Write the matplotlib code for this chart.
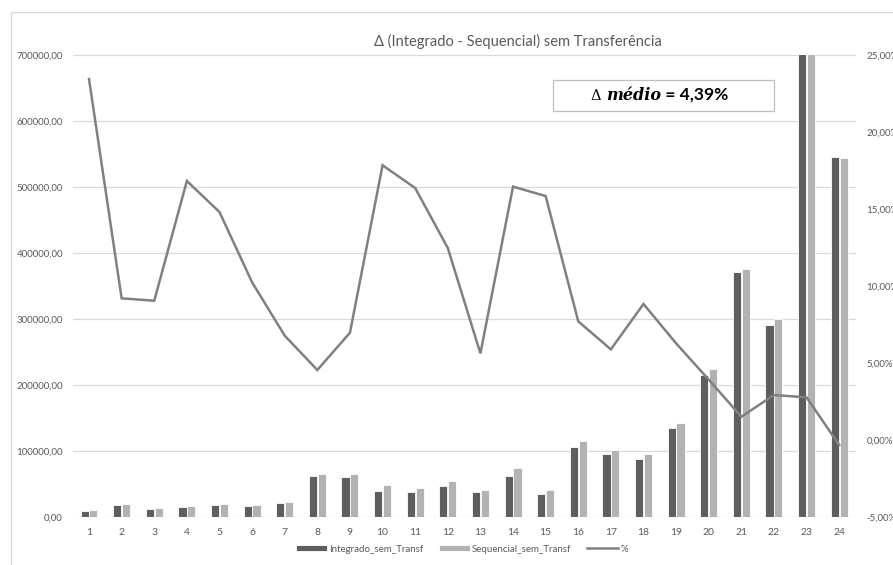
import matplotlib
matplotlib.use("Agg")
import matplotlib.pyplot as plt
from matplotlib.patches import Rectangle
from matplotlib.offsetbox import TextArea, HPacker, AnnotationBbox
from matplotlib.ticker import FuncFormatter, MultipleLocator
import numpy as np

# Data
cenarios = [str(i) for i in range(1, 25)]
integrado = [8000, 17700, 12000, 14500, 17000, 15800, 20500, 61300, 60700, 39500,
             37000, 46500, 37900, 62100, 34300, 106000, 95100, 87600, 134100, 215000,
             370900, 290400, 760000, 546300]
sequencial = [9900, 19000, 13500, 16800, 19800, 17800, 22000, 64300, 65300, 48000,
              44100, 53500, 40400, 74200, 40900, 115200, 101200, 95600, 142200, 223700,
              376300, 299500, 781000, 544800]
delta_pct = [23.46, 9.20, 9.04, 16.83, 14.81, 10.24, 6.77, 4.54, 6.96, 17.85,
             16.37, 12.47, 5.62, 16.46, 15.85, 7.70, 5.88, 8.83, 6.27, 3.91,
             1.50, 2.91, 2.76, -0.34]
titulo = "\u0394 (Integrado - Sequencial) sem Transfer\u00eancia"
media_txt = "4,39%"

W, H = 893, 565
fig = plt.figure(figsize=(W / 100, H / 100), dpi=100)
plt.rcParams['font.family'] = ['Liberation Sans Narrow', 'Lato', 'DejaVu Sans']

TXT = '#595959'
GRID = '#d9d9d9'
DARK = '#5e5e5e'
LIGHT = '#b2b2b2'
LINE = '#808080'

# outer chart border
fig.patches.append(Rectangle((10.7 / W, -0.1), 1.2, (H - 11.7) / H + 0.1,
                             transform=fig.transFigure, fill=False,
                             edgecolor=GRID, lw=0.9))

left, right = 72.7 / W, 855.5 / W
bottom, top = (H - 516.7) / H, (H - 55.3) / H
ax = fig.add_axes([left, bottom, right - left, top - bottom])

x = np.arange(len(cenarios))
bw = 0.25
ax.bar(x - 0.135, integrado, width=bw, color=DARK, edgecolor='white', lw=0.6,
       label='Integrado_sem_Transf', zorder=2)
ax.bar(x + 0.135, sequencial, width=bw, color=LIGHT, edgecolor='white', lw=0.6,
       label='Sequencial_sem_Transf', zorder=2)

ax.set_xlim(-0.5, len(cenarios) - 0.5)
ax.set_ylim(0, 700000)
ax.yaxis.set_major_locator(MultipleLocator(100000))
ax.yaxis.set_major_formatter(FuncFormatter(lambda v, p: f"{v:.2f}".replace('.', ',')))
ax.set_xticks(x)
ax.set_xticklabels(cenarios)
ax.grid(axis='y', color=GRID, lw=0.9, zorder=0)
ax.set_axisbelow(True)
for s in ax.spines.values():
    s.set_visible(False)
ax.tick_params(axis='y', length=0, pad=7, labelsize=7, labelcolor=TXT)
ax.tick_params(axis='x', length=0, pad=8, labelsize=7.5, labelcolor=TXT)

ax2 = ax.twinx()
ax2.plot(x, delta_pct, color=LINE, lw=1.8, label='%', zorder=3,
         solid_joinstyle='miter')
ax2.set_ylim(-5, 25)
ax2.yaxis.set_major_locator(MultipleLocator(5))
ax2.yaxis.set_major_formatter(FuncFormatter(lambda v, p: f"{v:.2f}%".replace('.', ',')))
for s in ax2.spines.values():
    s.set_visible(False)
ax2.tick_params(axis='y', length=0, pad=8, labelsize=7, labelcolor=TXT)

# title
fig.text(518 / W, 1 - 41 / H, titulo, ha='center', va='center',
         fontsize=10.5, color=TXT)

# average annotation box
bx0, bx1, by0, by1 = 553, 774, 80, 111
fig.patches.append(Rectangle((bx0 / W, 1 - by1 / H), (bx1 - bx0) / W, (by1 - by0) / H,
                             transform=fig.transFigure, facecolor='white',
                             edgecolor='#bfbfbf', lw=0.9, zorder=5))
t1 = TextArea("\u0394 ", textprops=dict(family='DejaVu Serif', fontsize=10.5, color='black'))
t2 = TextArea("m\u00e9dio", textprops=dict(family='DejaVu Serif', fontsize=11.5,
                                           style='italic', weight='bold', color='black'))
t3 = TextArea(" = " + media_txt, textprops=dict(family=['Lato', 'DejaVu Sans'],
                                                fontsize=12.5, weight='bold', color='black'))
pack = HPacker(children=[t1, t2, t3], align='baseline', pad=0, sep=0)
ab = AnnotationBbox(pack, ((bx0 + bx1) / 2 / W - 0.004, 1 - (by0 + by1) / 2 / H),
                    xycoords='figure fraction', frameon=False, zorder=6)
fig.add_artist(ab)

# legend
h1, l1 = ax.get_legend_handles_labels()
h2, l2 = ax2.get_legend_handles_labels()
leg = fig.legend(h1 + h2, l1 + l2, loc='center', bbox_to_anchor=(462 / W, 1 - 549 / H),
                 ncol=3, frameon=False, fontsize=7, handlelength=3.2, handleheight=0.6,
                 handletextpad=0.2, columnspacing=1.6, labelcolor=TXT)

fig.savefig('out.png', dpi=100, facecolor='white')
